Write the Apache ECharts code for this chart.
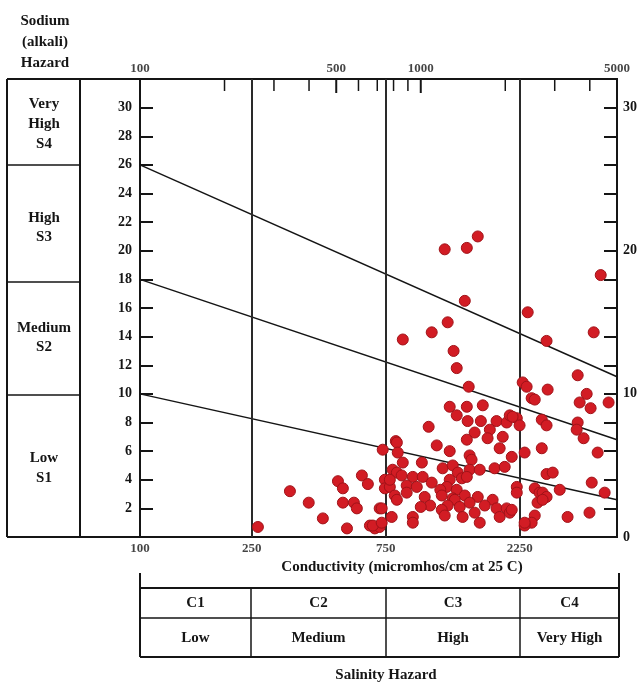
<!DOCTYPE html>
<html>
<head>
<meta charset="utf-8">
<script src="https://cdn.jsdelivr.net/npm/echarts@6/dist/echarts.min.js"></script>
<style>
  html, body { margin: 0; padding: 0; background: #fff; }
  #chart { width: 641px; height: 688px; }
</style>
</head>
<body>
<div id="chart"></div>
<script>
// samples: [conductivity (micromhos/cm), SAR]
var c2Samples = [
  [263, 0.7], [342, 3.2], [399, 2.4], [448, 1.3], [507, 3.9], [528, 3.4], [528, 2.4], [578, 2.4],
  [592, 2.0], [546, 0.6], [617, 4.3], [648, 3.7], [659, 0.8], [686, 0.6], [714, 0.7], [675, 0.8],
  [726, 1.0], [714, 2.0], [726, 2.0], [745, 4.0], [732, 6.1], [745, 3.4]
];
var c3Samples = [
  [1217, 20.1], [1459, 20.2], [1596, 21.0], [1435, 16.5], [863, 13.8], [1094, 14.3], [1247, 15.0],
  [1309, 13.0], [1343, 11.8], [1482, 10.5], [1268, 9.1], [1343, 8.5], [1459, 9.1], [1663, 9.2],
  [1067, 7.7], [1469, 8.1], [1637, 8.1], [1862, 8.1], [2023, 8.0], [2075, 8.5], [2198, 8.3],
  [2123, 8.4], [1762, 7.5], [1556, 7.3], [1459, 6.8], [1730, 6.9], [1959, 7.0], [1910, 6.2],
  [2109, 5.6], [1140, 6.4], [1268, 6.0], [1493, 5.7], [1517, 5.4], [815, 6.7], [822, 6.6],
  [828, 5.9], [863, 5.2], [1009, 5.2], [1197, 4.8], [1300, 5.0], [1355, 4.5], [1493, 4.7],
  [1622, 4.7], [1832, 4.8], [1991, 4.9], [794, 4.7], [822, 4.5], [855, 4.3], [937, 4.2],
  [1016, 4.2], [1094, 3.8], [1268, 4.0], [1400, 4.1], [1459, 4.2], [776, 3.5], [776, 4.0],
  [891, 3.6], [968, 3.5], [1239, 3.5], [1343, 3.3], [1174, 3.3], [2198, 3.5], [2198, 3.1],
  [808, 2.9], [891, 3.1], [1033, 2.8], [1188, 2.9], [1300, 2.7], [1435, 2.9], [1596, 2.8],
  [1803, 2.6], [1322, 2.6], [822, 2.6], [1247, 2.2], [1377, 2.1], [1493, 2.4], [1690, 2.2],
  [1862, 2.0], [2023, 2.0], [1080, 2.2], [1000, 2.1], [1188, 1.9], [1410, 1.4], [1622, 1.0],
  [1910, 1.4], [2075, 1.7], [2109, 1.9], [1217, 1.5], [1556, 1.7], [937, 1.4], [937, 1.0],
  [788, 1.4], [2249, 7.8]
];
var c4Samples = [
  [2404, 15.7], [4375, 18.3], [2806, 13.7], [4130, 14.3], [3622, 11.3], [2307, 10.8], [2383, 10.5],
  [2831, 10.3], [2483, 9.7], [2547, 9.6], [3899, 10.0], [3681, 9.4], [4027, 9.0], [4667, 9.4],
  [2698, 8.2], [2806, 7.8], [3622, 8.0], [3592, 7.5], [3802, 6.9], [2698, 6.2], [2344, 5.9],
  [4266, 5.9], [2806, 4.4], [2951, 4.5], [4064, 3.8], [4519, 3.1], [2547, 3.4], [2649, 3.1],
  [2716, 3.1], [2806, 2.8], [3126, 3.3], [2606, 2.4], [2716, 2.6], [2547, 1.5], [2483, 1.0],
  [2344, 0.8], [2344, 1.0], [3334, 1.4], [3990, 1.7]
];

// sodium hazard boundaries: SAR at 100 and at 5000 micromhos/cm
var boundaryStartSar = [26, 18, 10];
var boundaryEndSar = [11.2, 6.8, 2.6];
var salinityLimits = [250, 750, 2250];

// tick labels
var bottomLabels = [100, 250, 750, 2250];
var topLabels = [100, 500, 1000, 5000];
var topMinorTicks = [200, 300, 400, 600, 700, 800, 900, 2000, 3000, 4000];
var topMajorTicks = [500, 1000];
var salinityClasses = ['C1', 'C2', 'C3', 'C4'];
var salinityNames = ['Low', 'Medium', 'High', 'Very High'];

var FONT = 'Liberation Serif';
var INK = '#151515';

function txt(x, y, s, size, align) {
  return {
    type: 'text', x: x, y: y, silent: true,
    style: { text: s, fill: INK, font: 'bold ' + (size || 14) + 'px "' + FONT + '"', align: align || 'center', verticalAlign: 'middle' }
  };
}
function seg(x1, y1, x2, y2, w) {
  return { type: 'line', silent: true, shape: { x1: x1, y1: y1, x2: x2, y2: y2 }, style: { stroke: INK, lineWidth: w || 1.5 } };
}

// sodium hazard panel + salinity table
function buildGraphic() {
  var g = [];
  g.push(txt(45, 21, 'Sodium', 15));
  g.push(txt(45, 42, '(alkali)', 15));
  g.push(txt(45, 63, 'Hazard', 15));

  g.push(seg(7, 79, 140, 79, 2));
  g.push(seg(7, 537, 140, 537, 2));
  g.push(seg(7, 79, 7, 537, 2));
  g.push(seg(80, 79, 80, 537, 2));
  g.push(seg(7, 165, 80, 165));
  g.push(seg(7, 282, 80, 282));
  g.push(seg(7, 395, 80, 395));

  g.push(txt(44, 104, 'Very', 15));
  g.push(txt(44, 124, 'High', 15));
  g.push(txt(44, 144, 'S4', 15));
  g.push(txt(44, 218, 'High', 15));
  g.push(txt(44, 237, 'S3', 15));
  g.push(txt(44, 328, 'Medium', 15));
  g.push(txt(44, 347, 'S2', 15));
  g.push(txt(44, 458, 'Low', 15));
  g.push(txt(44, 478, 'S1', 15));

  g.push(txt(402, 567, 'Conductivity (micromhos/cm at 25 C)', 15));

  var cols = [140, 251, 386, 520, 619];
  g.push(seg(140, 573, 140, 657, 2));
  g.push(seg(619, 573, 619, 657, 2));
  g.push(seg(140, 588, 619, 588, 2));
  g.push(seg(140, 618, 619, 618, 1.5));
  g.push(seg(140, 657, 619, 657, 2));
  for (var i = 1; i < 4; i++) g.push(seg(cols[i], 588, cols[i], 657, 1.5));
  for (var j = 0; j < 4; j++) {
    var cx = (cols[j] + cols[j + 1]) / 2;
    g.push(txt(cx, 603, salinityClasses[j], 15));
    g.push(txt(cx, 638, salinityNames[j], 15));
  }
  g.push(txt(386, 675, 'Salinity Hazard', 15));
  return g;
}

function labelSeries(values, y, pos, dist) {
  return {
    type: 'scatter', silent: true, clip: false, symbolSize: 1,
    itemStyle: { color: 'rgba(0,0,0,0)' },
    data: values.map(function (v) { return [v, y]; }),
    label: {
      show: true, position: pos, distance: dist, color: INK,
      fontFamily: FONT, fontWeight: 'bold', fontSize: 13,
      formatter: function (p) { return String(p.value[0]); }
    }
  };
}

function tickSeries(values, w, len) {
  return {
    type: 'scatter', silent: true, clip: false, symbol: 'rect',
    symbolSize: [w, len], symbolOffset: [0, len / 2],
    itemStyle: { color: INK, opacity: 1 },
    data: values.map(function (v) { return [v, 32]; })
  };
}

function pointSeries(data) {
  return {
    type: 'scatter', data: data, symbolSize: 11, z: 5,
    itemStyle: { color: '#d21c24', borderColor: '#a01218', borderWidth: 1, opacity: 1 }
  };
}

var series = [];
for (var k = 0; k < boundaryStartSar.length; k++) {
  series.push({
    type: 'line', silent: true, symbol: 'none',
    lineStyle: { color: INK, width: 1.5 },
    data: [[100, boundaryStartSar[k]], [5000, boundaryEndSar[k]]],
    markLine: k === 0 ? {
      silent: true, symbol: ['none', 'none'], label: { show: false },
      lineStyle: { color: '#2a2a2a', width: 2, type: 'solid' },
      data: salinityLimits.map(function (v) { return { xAxis: v }; })
    } : undefined
  });
}
series.push(pointSeries(c2Samples));
series.push(pointSeries(c3Samples));
series.push(pointSeries(c4Samples));
series.push(labelSeries(bottomLabels, 0, 'bottom', 5));
series.push(labelSeries(topLabels, 32, 'top', 3));
series.push(tickSeries(topMinorTicks, 1.5, 12));
series.push(tickSeries(topMajorTicks, 2, 14));

var chart = echarts.init(document.getElementById('chart'));
chart.setOption({
  animation: false,
  grid: { left: 140, right: 24, top: 79, bottom: 151, show: true, borderColor: INK, borderWidth: 2 },
  xAxis: {
    type: 'log', logBase: 10, min: 100, max: 5000,
    axisLine: { show: false }, axisTick: { show: false }, axisLabel: { show: false }, splitLine: { show: false }
  },
  yAxis: [{
    type: 'value', min: 0, max: 32, interval: 2, position: 'left',
    axisLine: { show: true, lineStyle: { color: INK, width: 2 } },
    axisTick: { show: true, inside: true, length: 13, lineStyle: { color: INK, width: 2 } },
    axisLabel: {
      color: INK, fontFamily: FONT, fontWeight: 'bold', fontSize: 14, margin: 8,
      formatter: function (v) { return (v === 0 || v === 32) ? '' : v; }
    },
    splitLine: { show: false }
  }, {
    type: 'value', min: 0, max: 32, interval: 2, position: 'right',
    axisLine: { show: true, lineStyle: { color: INK, width: 2 } },
    axisTick: { show: true, inside: true, length: 13, lineStyle: { color: INK, width: 2 } },
    axisLabel: {
      color: INK, fontFamily: FONT, fontWeight: 'bold', fontSize: 14, margin: 6,
      formatter: function (v) { return (v % 10 === 0) ? v : ''; }
    },
    splitLine: { show: false }
  }],
  series: series,
  graphic: buildGraphic()
});
</script>
</body>
</html>
